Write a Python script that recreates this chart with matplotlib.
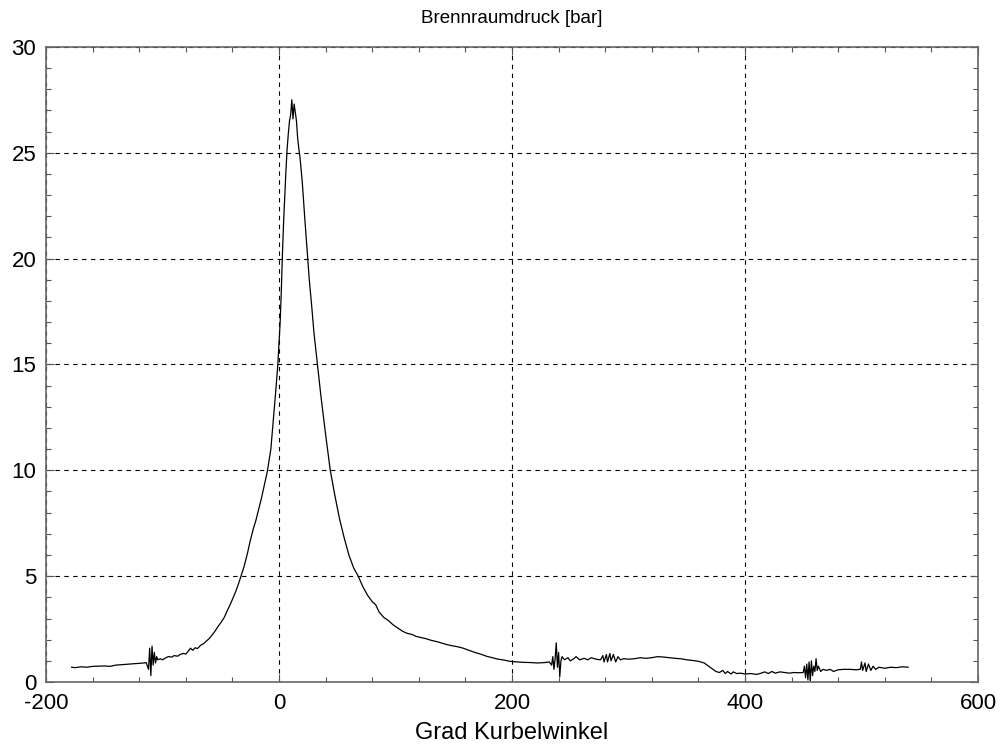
import numpy as np
import matplotlib.pyplot as plt
from matplotlib.ticker import MultipleLocator

plt.rcParams['font.family'] = ['Liberation Sans', 'DejaVu Sans']
plt.rcParams['axes.unicode_minus'] = False

# Kurbelwinkel [Grad] und Brennraumdruck [bar]
winkel = [-178, -175, -170, -165, -160, -155, -150, -145, -140, -135, -130, -125,
          -120, -116, -114, -112, -111, -110, -109, -108, -107, -106, -105, -104,
          -102, -100, -97, -95, -92, -90, -87, -85, -82, -80, -78, -76, -74, -72,
          -70, -67, -65, -62, -60, -57, -55, -52, -50, -47, -45, -42, -40, -37,
          -35, -32, -30, -27, -25, -22, -20, -15, -10, -7, -5, -3, -1, 1, 2, 3,
          4, 5, 6, 7, 8, 9, 10, 11, 12, 13, 14, 15, 16, 17, 18, 20, 22, 24, 26,
          28, 30, 33, 36, 40, 44, 48, 52, 56, 60, 64, 68, 72, 76, 80, 83, 86, 90,
          94, 98, 102, 106, 110, 114, 118, 122, 126, 130, 136, 142, 148, 153, 158,
          163, 168, 173, 178, 183, 188, 193, 198, 204, 210, 216, 222, 228, 232,
          234, 235, 236, 237, 238, 239, 240, 241, 242, 243, 245, 248, 250, 253,
          255, 258, 262, 265, 268, 272, 276, 278, 279, 281, 282, 284, 285, 287,
          289, 291, 293, 296, 300, 305, 310, 315, 320, 325, 330, 335, 340, 345,
          350, 355, 360, 365, 370, 375, 378, 381, 383, 385, 388, 390, 393, 396,
          400, 405, 410, 414, 417, 420, 423, 426, 430, 434, 438, 442, 446, 450,
          451, 452, 453, 454, 455, 456, 457, 458, 459, 460, 461, 462, 463, 465,
          467, 470, 473, 476, 480, 485, 490, 495, 499, 500, 501, 503, 504, 506,
          508, 510, 512, 515, 520, 525, 530, 535, 540]
druck = [0.70, 0.68, 0.72, 0.70, 0.74, 0.75, 0.76, 0.74, 0.80, 0.82, 0.84, 0.86,
         0.88, 0.90, 0.92, 0.60, 1.60, 0.30, 1.70, 0.80, 1.40, 0.90, 1.20, 1.05,
         1.10, 1.05, 1.15, 1.20, 1.18, 1.25, 1.22, 1.30, 1.35, 1.32, 1.45, 1.60,
         1.50, 1.62, 1.58, 1.75, 1.80, 1.95, 2.05, 2.25, 2.40, 2.65, 2.80, 3.05,
         3.30, 3.65, 3.90, 4.30, 4.60, 5.10, 5.45, 6.10, 6.60, 7.25, 7.60, 8.70,
         9.95, 11.0, 12.3, 13.6, 15.0, 17.0, 18.5, 20.3, 21.8, 23.0, 24.2, 25.2,
         25.9, 26.5, 26.8, 27.5, 26.6, 27.3, 26.9, 26.5, 25.7, 25.2, 24.8, 23.6,
         22.0, 20.5, 19.0, 17.8, 16.5, 15.0, 13.5, 11.7, 10.0, 8.8, 7.7, 6.8,
         6.0, 5.4, 5.0, 4.5, 4.1, 3.8, 3.65, 3.3, 3.05, 2.9, 2.7, 2.55, 2.40,
         2.30, 2.25, 2.15, 2.10, 2.05, 1.98, 1.90, 1.80, 1.72, 1.67, 1.60, 1.50,
         1.40, 1.32, 1.22, 1.15, 1.08, 1.04, 0.98, 0.95, 0.93, 0.92, 0.90, 0.92,
         0.95, 0.80, 1.20, 0.60, 1.10, 1.85, 0.70, 1.40, 0.25, 1.00, 1.20, 1.05,
         1.15, 1.00, 1.10, 1.20, 1.05, 1.12, 1.05, 1.15, 1.08, 1.05, 1.25, 0.95,
         1.30, 0.95, 1.35, 1.00, 1.30, 0.95, 1.20, 1.05, 1.10, 1.08, 1.10, 1.15,
         1.12, 1.15, 1.20, 1.18, 1.15, 1.12, 1.10, 1.05, 1.02, 0.98, 0.90, 0.70,
         0.50, 0.45, 0.55, 0.40, 0.50, 0.38, 0.48, 0.40, 0.42, 0.38, 0.40, 0.36,
         0.42, 0.48, 0.40, 0.50, 0.42, 0.48, 0.45, 0.42, 0.45, 0.44, 0.45, 0.75,
         0.20, 0.85, 0.10, 0.95, 0.05, 1.00, 0.30, 0.75, 0.50, 1.10, 0.55, 0.75,
         0.50, 0.60, 0.55, 0.60, 0.50, 0.58, 0.60, 0.60, 0.58, 0.60, 0.95, 0.55,
         0.90, 0.50, 0.85, 0.55, 0.75, 0.60, 0.70, 0.65, 0.70, 0.68, 0.72, 0.70]

fig = plt.figure(figsize=(10, 7.49), dpi=100)
ax = fig.add_axes([0.046, 0.0894, 0.932, 0.848])

ax.plot(winkel, druck, color='black', linewidth=0.9)

ax.set_xlim(-200, 600)
ax.set_ylim(0, 30)
ax.xaxis.set_major_locator(MultipleLocator(200))
ax.xaxis.set_minor_locator(MultipleLocator(40))
ax.yaxis.set_major_locator(MultipleLocator(5))
ax.yaxis.set_minor_locator(MultipleLocator(1))
ax.tick_params(which='both', direction='in', top=True, right=True, labelsize=16,
               color='#555555')
ax.tick_params(which='major', length=6, width=0.8)
ax.tick_params(which='minor', length=3.5, width=0.8)
ax.tick_params(axis='x', pad=8)
ax.tick_params(axis='y', pad=7)

ax.grid(True, which='major', color='black', linestyle=(0, (4, 4)), linewidth=0.8)
for s in ax.spines.values():
    s.set_linewidth(1.2)
    s.set_color('#666666')

ax.set_title("Brennraumdruck [bar]", fontsize=13.5, pad=17)
ax.set_xlabel("Grad Kurbelwinkel", fontsize=17, labelpad=6)

plt.savefig("out.png", dpi=100)
